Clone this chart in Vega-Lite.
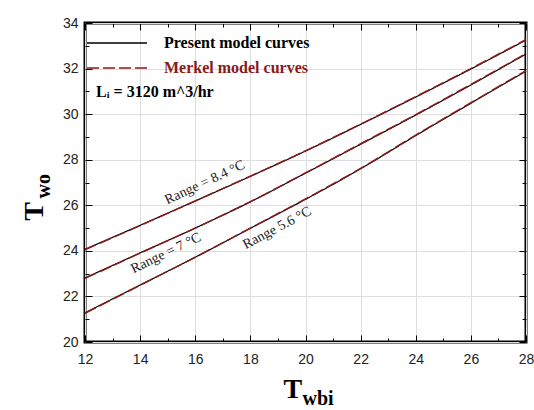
{
  "$schema": "https://vega.github.io/schema/vega-lite/v6.json",
  "width": 441,
  "height": 319,
  "autosize": {"type": "none"},
  "padding": {"left": 85, "top": 23, "right": 8, "bottom": 68},
  "background": "white",
  "datasets": {
    "curves": [
      {"model": "Present model curves", "range": "8.4", "x": 12, "y": 24.07},
      {"model": "Present model curves", "range": "8.4", "x": 14, "y": 25.12},
      {"model": "Present model curves", "range": "8.4", "x": 16, "y": 26.19},
      {"model": "Present model curves", "range": "8.4", "x": 18, "y": 27.27},
      {"model": "Present model curves", "range": "8.4", "x": 20, "y": 28.38},
      {"model": "Present model curves", "range": "8.4", "x": 22, "y": 29.55},
      {"model": "Present model curves", "range": "8.4", "x": 24, "y": 30.75},
      {"model": "Present model curves", "range": "8.4", "x": 26, "y": 31.98},
      {"model": "Present model curves", "range": "8.4", "x": 28, "y": 33.25},
      {"model": "Present model curves", "range": "7", "x": 12, "y": 22.81},
      {"model": "Present model curves", "range": "7", "x": 14, "y": 23.91},
      {"model": "Present model curves", "range": "7", "x": 16, "y": 25.0},
      {"model": "Present model curves", "range": "7", "x": 18, "y": 26.15},
      {"model": "Present model curves", "range": "7", "x": 20, "y": 27.41},
      {"model": "Present model curves", "range": "7", "x": 22, "y": 28.68},
      {"model": "Present model curves", "range": "7", "x": 24, "y": 29.96},
      {"model": "Present model curves", "range": "7", "x": 26, "y": 31.28},
      {"model": "Present model curves", "range": "7", "x": 28, "y": 32.64},
      {"model": "Present model curves", "range": "5.6", "x": 12, "y": 21.28},
      {"model": "Present model curves", "range": "5.6", "x": 14, "y": 22.5},
      {"model": "Present model curves", "range": "5.6", "x": 16, "y": 23.72},
      {"model": "Present model curves", "range": "5.6", "x": 18, "y": 24.99},
      {"model": "Present model curves", "range": "5.6", "x": 20, "y": 26.26},
      {"model": "Present model curves", "range": "5.6", "x": 22, "y": 27.6},
      {"model": "Present model curves", "range": "5.6", "x": 24, "y": 29.06},
      {"model": "Present model curves", "range": "5.6", "x": 26, "y": 30.48},
      {"model": "Present model curves", "range": "5.6", "x": 28, "y": 31.89},
      {"model": "Merkel model curves", "range": "8.4", "x": 12, "y": 24.05},
      {"model": "Merkel model curves", "range": "8.4", "x": 14, "y": 25.11},
      {"model": "Merkel model curves", "range": "8.4", "x": 16, "y": 26.19},
      {"model": "Merkel model curves", "range": "8.4", "x": 18, "y": 27.28},
      {"model": "Merkel model curves", "range": "8.4", "x": 20, "y": 28.39},
      {"model": "Merkel model curves", "range": "8.4", "x": 22, "y": 29.56},
      {"model": "Merkel model curves", "range": "8.4", "x": 24, "y": 30.77},
      {"model": "Merkel model curves", "range": "8.4", "x": 26, "y": 32.0},
      {"model": "Merkel model curves", "range": "8.4", "x": 28, "y": 33.27},
      {"model": "Merkel model curves", "range": "7", "x": 12, "y": 22.79},
      {"model": "Merkel model curves", "range": "7", "x": 14, "y": 23.9},
      {"model": "Merkel model curves", "range": "7", "x": 16, "y": 25.0},
      {"model": "Merkel model curves", "range": "7", "x": 18, "y": 26.16},
      {"model": "Merkel model curves", "range": "7", "x": 20, "y": 27.42},
      {"model": "Merkel model curves", "range": "7", "x": 22, "y": 28.7},
      {"model": "Merkel model curves", "range": "7", "x": 24, "y": 29.98},
      {"model": "Merkel model curves", "range": "7", "x": 26, "y": 31.3},
      {"model": "Merkel model curves", "range": "7", "x": 28, "y": 32.66},
      {"model": "Merkel model curves", "range": "5.6", "x": 12, "y": 21.26},
      {"model": "Merkel model curves", "range": "5.6", "x": 14, "y": 22.49},
      {"model": "Merkel model curves", "range": "5.6", "x": 16, "y": 23.72},
      {"model": "Merkel model curves", "range": "5.6", "x": 18, "y": 25.0},
      {"model": "Merkel model curves", "range": "5.6", "x": 20, "y": 26.28},
      {"model": "Merkel model curves", "range": "5.6", "x": 22, "y": 27.62},
      {"model": "Merkel model curves", "range": "5.6", "x": 24, "y": 29.08},
      {"model": "Merkel model curves", "range": "5.6", "x": 26, "y": 30.5},
      {"model": "Merkel model curves", "range": "5.6", "x": 28, "y": 31.91}
    ],
    "labels": [
      {"label": "Range = 8.4 °C", "x": 16.35, "y": 27.0, "angle": -25},
      {"label": "Range = 7 °C", "x": 14.94, "y": 23.9, "angle": -26},
      {"label": "Range 5.6 °C", "x": 18.97, "y": 25.0, "angle": -28}
    ],
    "note": [
      {"label": "Lᵢ = 3120 m^3/hr", "x": 12.4, "y": 30.75}
    ]
  },
  "layer": [
    {
      "data": {"name": "curves"},
      "transform": [{"filter": "datum.model === 'Present model curves'"}],
      "mark": {"type": "line", "strokeWidth": 1.2, "interpolate": "monotone"},
      "encoding": {
        "x": {"field": "x", "type": "quantitative",
          "scale": {"domain": [12, 28], "nice": false, "zero": false},
          "axis": {"orient": "bottom", "values": [12, 14, 16, 18, 20, 22, 24, 26, 28], "ticks": false, "labelPadding": 10, "labelFlush": false,
            "title": "T", "titleFont": "Liberation Serif", "titleFontSize": 28, "titleFontWeight": "bold",
            "titleAlign": "left", "titleBaseline": "alphabetic", "titleX": 198, "titleY": 55, "titleColor": "black"}},
        "y": {"field": "y", "type": "quantitative",
          "scale": {"domain": [20, 34], "nice": false, "zero": false},
          "axis": {"orient": "left", "values": [20, 22, 24, 26, 28, 30, 32, 34], "ticks": false, "labelPadding": 7, "labelFlush": false,
            "title": "T", "titleFont": "Liberation Serif", "titleFontSize": 28, "titleFontWeight": "bold",
            "titleAngle": -90, "titleAlign": "center", "titleBaseline": "alphabetic", "titleX": -43, "titleY": 188, "titleColor": "black"}},
        "detail": {"field": "range"},
        "color": {"field": "model", "type": "nominal",
          "scale": {"domain": ["Present model curves", "Merkel model curves"], "range": ["black", "#8b1a1a"]},
          "legend": {"orient": "none", "legendX": 21, "legendY": 9, "title": null, "symbolType": "M-3,0H3", "symbolSize": 400,
            "symbolStrokeWidth": 1.5, "labelFont": "Liberation Serif", "labelFontSize": 16, "labelFontWeight": "bold",
            "labelOffset": 36, "rowPadding": 6, "padding": 0,
            "encode": {"labels": {"update": {"fill": {"signal": "datum.label === 'Merkel model curves' ? '#8b1a1a' : 'black'"}}}}}},
        "strokeDash": {"field": "model", "type": "nominal",
          "scale": {"domain": ["Present model curves", "Merkel model curves"], "range": [[1, 0], [12, 4]]},
          "legend": {"orient": "none", "legendX": 21, "legendY": 9, "title": null, "symbolType": "M-3,0H3", "symbolSize": 400,
            "symbolStrokeWidth": 1.5, "labelFont": "Liberation Serif", "labelFontSize": 16, "labelFontWeight": "bold",
            "labelOffset": 36, "rowPadding": 6, "padding": 0,
            "encode": {"labels": {"update": {"fill": {"signal": "datum.label === 'Merkel model curves' ? '#8b1a1a' : 'black'"}}}}}}
      }
    },
    {
      "data": {"name": "curves"},
      "transform": [{"filter": "datum.model === 'Merkel model curves'"}],
      "mark": {"type": "line", "strokeWidth": 1.5, "interpolate": "monotone"},
      "encoding": {
        "x": {"field": "x", "type": "quantitative",
          "axis": {"orient": "bottom", "values": [12, 13, 14, 15, 16, 17, 18, 19, 20, 21, 22, 23, 24, 25, 26, 27, 28], "labels": false,
            "ticks": false, "grid": true, "gridColor": "black", "gridOpacity": 1, "gridWidth": 1,
            "gridDash": {"condition": {"test": "datum.value % 2 === 0", "value": [7, 305, 7]}, "value": [4, 311, 4]},
            "title": "wbi", "titleFont": "Liberation Serif", "titleFontSize": 20, "titleFontWeight": "bold",
            "titleAlign": "left", "titleBaseline": "alphabetic", "titleX": 217, "titleY": 62, "titleColor": "black"}},
        "y": {"field": "y", "type": "quantitative",
          "axis": {"orient": "left", "values": [20, 21, 22, 23, 24, 25, 26, 27, 28, 29, 30, 31, 32, 33, 34], "labels": false,
            "ticks": false, "grid": true, "gridColor": "black", "gridOpacity": 1, "gridWidth": 1,
            "gridDash": {"condition": {"test": "datum.value % 2 === 0", "value": [7, 427, 7]}, "value": [4, 433, 4]},
            "title": "wo", "titleFont": "Liberation Serif", "titleFontSize": 20, "titleFontWeight": "bold",
            "titleAngle": -90, "titleAlign": "left", "titleBaseline": "alphabetic", "titleX": -36, "titleY": 175, "titleColor": "black"}},
        "detail": {"field": "range"},
        "color": {"field": "model", "type": "nominal"},
        "strokeDash": {"field": "model", "type": "nominal"}
      }
    },
    {
      "data": {"name": "labels"},
      "mark": {"type": "text", "font": "Liberation Serif", "fontSize": 14, "color": "#222", "align": "center", "baseline": "middle"},
      "encoding": {
        "x": {"field": "x", "type": "quantitative", "axis": null},
        "y": {"field": "y", "type": "quantitative", "axis": null},
        "text": {"field": "label"},
        "angle": {"field": "angle", "type": "quantitative", "scale": null}
      }
    },
    {
      "data": {"name": "note"},
      "mark": {"type": "text", "font": "Liberation Serif", "fontSize": 16, "fontWeight": "bold", "color": "black", "align": "left", "baseline": "alphabetic"},
      "encoding": {
        "x": {"field": "x", "type": "quantitative", "axis": null},
        "y": {"field": "y", "type": "quantitative", "axis": null},
        "text": {"field": "label"}
      }
    }
  ],
  "resolve": {"axis": {"x": "independent", "y": "independent"}},
  "config": {
    "view": {"stroke": "black", "strokeWidth": 3},
    "axis": {"domain": false, "labelFont": "Liberation Sans", "labelFontSize": 14, "labelColor": "#222"}
  }
}
